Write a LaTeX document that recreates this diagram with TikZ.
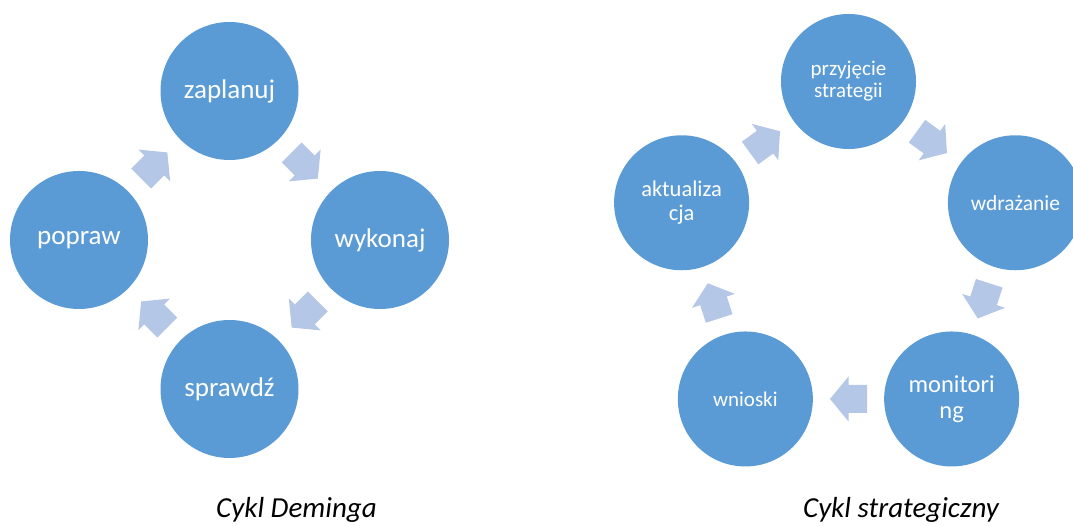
\documentclass[tikz,border=0pt]{standalone}
\usepackage{fontspec}
\setmainfont{Carlito}
\usetikzlibrary{calc}
\definecolor{circblue}{HTML}{5B9BD5}
\definecolor{arrblue}{HTML}{B4C7E7}
\tikzset{
  circ/.style={circle, fill=circblue, draw=none, minimum size=#1, inner sep=0pt, text=white, align=center},
  arrowfill/.style={fill=arrblue, draw=none},
  caption/.style={anchor=base, text=black, font=\fontsize{29bp}{34bp}\selectfont\itshape}
}
\newcommand\cyclearrow[3]{%
  \begin{scope}[shift={($(#1)!0.5!(#2)$)}, rotate=#3]
    \fill[arrowfill] (-18.5,-14) -- (0,-14) -- (0,-22.5) -- (18.5,0) -- (0,22.5) -- (0,14) -- (-18.5,14) -- cycle;
  \end{scope}}
\begin{document}
\begin{tikzpicture}[x=1bp,y=1bp]
\useasboundingbox (0,0) rectangle (1073,526);
% Left: Deming cycle
\begin{scope}[every node/.append style={font=\fontsize{27bp}{32bp}\selectfont}]
\node[circ=138bp] (zap) at (229.5,435) {zaplanuj};
\node[circ=138bp] (wyk) at (380,286) {wykonaj};
\node[circ=138bp] (spr) at (229.5,137) {sprawdź};
\node[circ=138bp] (pop) at (79,286) {popraw};
\end{scope}
\cyclearrow{zap}{wyk}{-45}
\cyclearrow{wyk}{spr}{-135}
\cyclearrow{spr}{pop}{135}
\cyclearrow{pop}{zap}{45}
\node[caption] (cap1) at (296.5,8) {Cykl Deminga};
% Right: strategic cycle
\coordinate (c) at (848.5,269);
\node[circ=135bp, font=\fontsize{21bp}{22bp}\selectfont] (prz) at ($(c)+(90:175.5)$) {przyjęcie\\strategii};
\node[circ=135bp, font=\fontsize{21.5bp}{24bp}\selectfont] (wdr) at ($(c)+(18:175.5)$) {wdrażanie};
\node[circ=135bp, font=\fontsize{24.5bp}{26bp}\selectfont] (mon) at ($(c)+(-54:175.5)$) {monitori\\ng};
\node[circ=135bp, font=\fontsize{21bp}{24bp}\selectfont] (wni) at ($(c)+(-126:175.5)$) {wnioski};
\node[circ=135bp, font=\fontsize{22.5bp}{24bp}\selectfont] (akt) at ($(c)+(162:175.5)$) {aktualiza\\cja};
\cyclearrow{prz}{wdr}{-36}
\cyclearrow{wdr}{mon}{-108}
\cyclearrow{mon}{wni}{180}
\cyclearrow{wni}{akt}{108}
\cyclearrow{akt}{prz}{36}
\node[caption] (cap2) at (901,8) {Cykl strategiczny};
\end{tikzpicture}
\end{document}
